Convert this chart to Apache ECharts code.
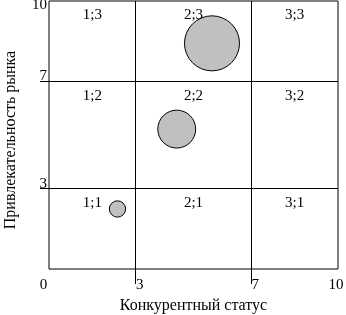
<!DOCTYPE html>
<html><head><meta charset="utf-8">
<script src="https://cdn.jsdelivr.net/npm/echarts@6/dist/echarts.min.js"></script>
<style>html,body{margin:0;padding:0;background:#fff}#c{width:346px;height:315px}</style>
</head><body><div id="c"></div>
<script>
const xTicks = [0, 3, 7, 10];
const yTicks = [3, 7, 10];
const xBounds = [0, 3, 7, 10];
const yBounds = [0, 3, 7, 10];
const cellNames = [['1;1', '2;1', '3;1'], ['1;2', '2;2', '3;2'], ['1;3', '2;3', '3;3']];
const bubbleX = [2.37, 4.42, 5.64];
const bubbleY = [2.24, 5.22, 8.42];
const bubbleSize = [1, 5.4, 11.4];
const xName = 'Конкурентный статус';
const yName = 'Привлекательность рынка';

const FONT = 'Liberation Serif';
const FS = 15;
const cellData = [];
for (let r = 0; r < 3; r++) {
  for (let c = 0; c < 3; c++) {
    cellData.push({ name: cellNames[r][c], value: [(xBounds[c] + xBounds[c + 1]) / 2, yBounds[r + 1]] });
  }
}
const bubbles = bubbleX.map((x, i) => [x, bubbleY[i], bubbleSize[i]]);

const chart = echarts.init(document.getElementById('c'), null, { renderer: 'canvas' });
chart.setOption({
  animation: false,
  backgroundColor: '#fff',
  grid: { left: 49, right: 8, top: 1, bottom: 46, outerBoundsMode: 'none', containLabel: false, show: true, borderColor: '#000', borderWidth: 1, backgroundColor: 'transparent' },
  xAxis: {
    type: 'value', min: 0, max: 10,
    name: xName, nameLocation: 'middle', nameGap: 29,
    nameTextStyle: { fontFamily: FONT, fontSize: 16, color: '#000' },
    axisLine: { show: false },
    splitLine: { show: false },
    axisTick: { show: true, customValues: [3, 7], length: 15, lineStyle: { color: '#000', width: 1 } },
    axisLabel: {
      customValues: xTicks, margin: 9, color: '#000', fontFamily: FONT, fontSize: FS,
      formatter: v => v === 0 ? '{l|0}' : (v === 10 ? '{m|10}' : '{r|' + v + '}'),
      rich: {
        l: { padding: [0, 11, 0, 0], fontFamily: FONT, fontSize: FS, color: '#000' },
        m: { padding: [0, 4, 0, 0], fontFamily: FONT, fontSize: FS, color: '#000' },
        r: { padding: [0, 0, 0, 8], fontFamily: FONT, fontSize: FS, color: '#000' }
      }
    }
  },
  yAxis: {
    type: 'value', min: 0, max: 10,
    name: yName, nameLocation: 'middle', nameGap: 30,
    nameTextStyle: { fontFamily: FONT, fontSize: 16, color: '#000', padding: [0, 10, 0, 0] },
    axisLine: { show: false },
    splitLine: { show: false },
    axisTick: { show: true, customValues: [3, 7], length: 9, lineStyle: { color: '#000', width: 1 } },
    axisLabel: {
      customValues: yTicks, margin: 2, color: '#000', fontFamily: FONT, fontSize: FS,
      formatter: v => v === 10 ? '{t|10}' : '{u|' + v + '}',
      rich: {
        t: { padding: [8, 0, 0, 0], fontFamily: FONT, fontSize: FS, color: '#000' },
        u: { padding: [0, 0, 10, 0], fontFamily: FONT, fontSize: FS, color: '#000' }
      }
    }
  },
  series: [
    {
      type: 'scatter', clip: false, silent: true,
      symbolSize: 0,
      itemStyle: { opacity: 1 },
      data: cellData,
      label: { show: true, position: 'bottom', distance: 7, formatter: p => p.name, fontFamily: FONT, fontSize: FS, color: '#000', opacity: 1 },
      markLine: {
        silent: true, symbol: 'none', animation: false,
        label: { show: false },
        lineStyle: { color: '#000', type: 'solid', width: 1, opacity: 1 },
        data: [{ xAxis: xBounds[1] }, { xAxis: xBounds[2] }, { yAxis: yBounds[1] }, { yAxis: yBounds[2] }]
      }
    },
    {
      type: 'scatter', silent: true,
      data: bubbles,
      symbolSize: d => Math.sqrt(d[2]) * 16.3,
      itemStyle: { color: '#c0c0c0', borderColor: '#000', borderWidth: 1, opacity: 1 }
    }
  ]
});
</script>
</body></html>
